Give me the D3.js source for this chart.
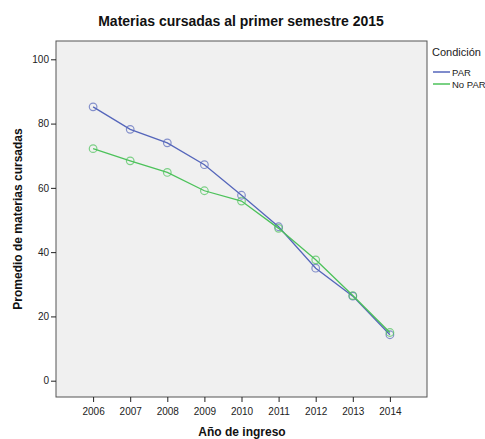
<!DOCTYPE html>
<html><head><meta charset="utf-8">
<script src="https://cdn.jsdelivr.net/npm/d3@7/dist/d3.min.js"></script>
<style>body{margin:0;background:#fff}svg{display:block;font-family:"Liberation Sans",Arial,sans-serif}</style>
</head><body><svg id="c" width="485" height="439"></svg>
<script>
const years = [2006,2007,2008,2009,2010,2011,2012,2013,2014];
const parValues = [85.2,78.2,74.0,67.2,57.7,47.9,35.0,26.3,14.3];
const noParValues = [72.2,68.4,64.8,59.1,55.9,47.4,37.6,26.5,15.0];
const seriesNames = ["PAR","No PAR"];
const seriesColors = ["#5566bb","#4cc25a"];
const yTicks = [0,20,40,60,80,100];

const svg = d3.select("#c");
const L=56,T=41,R=427,B=397;
const x = d3.scaleLinear().domain([2005,2015]).range([L,R]);
const y = d3.scaleLinear().domain([0,100]).range([380.7,59.3]);

svg.append("rect").attr("x",L).attr("y",T).attr("width",R-L).attr("height",B-T)
  .attr("fill","#f0f0f0").attr("stroke","#555").attr("stroke-width",1);

const ya = svg.append("g").attr("transform",`translate(${L},0)`)
  .call(d3.axisLeft(y).tickValues(yTicks).tickSize(5).tickFormat(d3.format("d")));
ya.select(".domain").remove();
ya.selectAll("line").attr("stroke","#222");
ya.selectAll("text").attr("font-size",10).attr("fill","#222").attr("dx",1).attr("font-family","Liberation Sans, Arial");

const xa = svg.append("g").attr("transform",`translate(0,${B})`)
  .call(d3.axisBottom(x).tickValues(years).tickSize(5).tickFormat(d3.format("d")));
xa.select(".domain").remove();
xa.selectAll("line").attr("stroke","#222");
xa.selectAll("text").attr("font-size",10).attr("fill","#222").attr("dy","1.0em").attr("font-family","Liberation Sans, Arial");

const data = [parValues, noParValues];
const line = d3.line().x((d,i)=>x(years[i])).y(d=>y(d));
data.forEach((vals,k)=>{
  svg.append("path").datum(vals).attr("d",line).attr("fill","none")
    .attr("stroke",seriesColors[k]).attr("stroke-width",1.3);
  svg.append("g").selectAll("circle").data(vals).join("circle")
    .attr("cx",(d,i)=>x(years[i])).attr("cy",d=>y(d)).attr("r",3.8)
    .attr("fill","none").attr("stroke",seriesColors[k]).attr("stroke-opacity",0.7).attr("stroke-width",1.2);
});

svg.append("text").attr("x",241).attr("y",26).attr("text-anchor","middle")
  .attr("font-size",14).attr("font-weight","bold").attr("fill","#111").text("Materias cursadas al primer semestre 2015");
svg.append("text").attr("x",242).attr("y",436).attr("text-anchor","middle")
  .attr("font-size",12).attr("font-weight","bold").attr("fill","#111").text("Año de ingreso");
svg.append("text").attr("transform",`translate(22,${(T+B)/2}) rotate(-90)`).attr("text-anchor","middle")
  .attr("font-size",12).attr("font-weight","bold").attr("fill","#111").text("Promedio de materias cursadas");

svg.append("text").attr("x",432).attr("y",56).attr("font-size",11).attr("fill","#222").text("Condición");
seriesNames.forEach((n,k)=>{
  const yy = 72 + k*12;
  svg.append("line").attr("x1",433).attr("x2",450).attr("y1",yy).attr("y2",yy)
    .attr("stroke",seriesColors[k]).attr("stroke-width",1.5);
  svg.append("text").attr("x",452).attr("y",yy+3.5).attr("font-size",9.5).attr("fill","#222").text(n);
});
</script></body></html>
